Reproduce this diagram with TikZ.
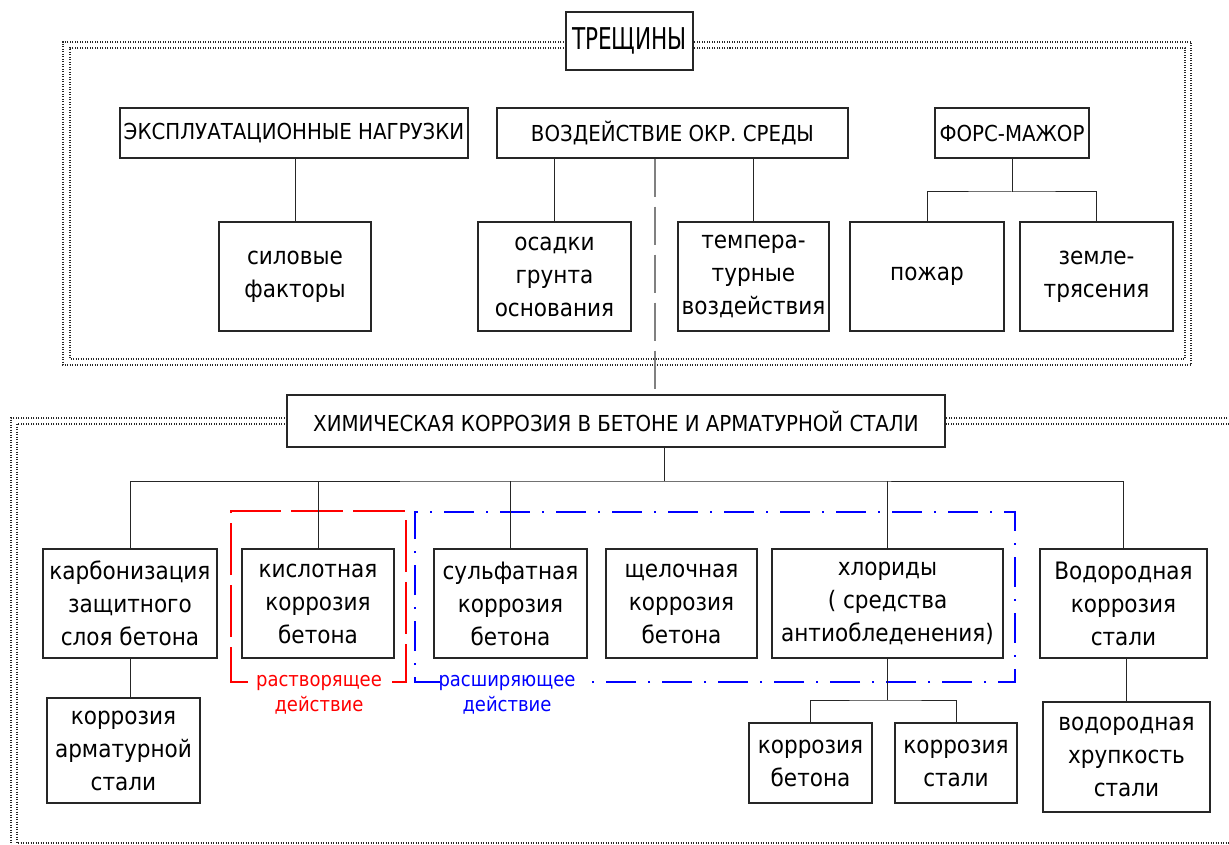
\documentclass[tikz,border=0pt]{standalone}
\usepackage{fontspec}
\setmainfont{DejaVu Sans Condensed}
\newfontfamily\tallfont{DejaVu Sans Condensed}[FakeStretch=0.8]

\tikzset{
    box/.style={draw=black!85, line width=1.2pt, align=center, inner sep=0pt, font=\fontsize{24}{33}\selectfont},
    capsbox/.style={box, font=\fontsize{22}{26}\selectfont},
    link/.style={line width=1pt, black!85},
    frame/.style={line width=1.1pt, black!85, dash pattern=on 1pt off 1.5pt},
    axisline/.style={line width=1.2pt, black!50, dash pattern=on 38pt off 10pt},
    dissolve/.style={line width=1.5pt, red, dash pattern=on 52pt off 10pt},
    expand/.style={line width=1.5pt, blue, dash pattern=on 30pt off 12pt on 2pt off 12pt},
    effect/.style={align=center, inner sep=0pt, font=\fontsize{20}{25}\selectfont}
}

\begin{document}
\begin{tikzpicture}[x=1pt, y=-1pt]
    \path[use as bounding box, fill=white] (0,0) rectangle (1229,845);
    \clip (0,0) rectangle (1229,845);

    \node[capsbox, minimum width=127pt, minimum height=58pt, font=\tallfont\fontsize{30}{34}\selectfont] (cracks) at (629.5,41) {ТРЕЩИНЫ};
    \node[capsbox, minimum width=348pt, minimum height=50pt] (loads) at (294,133) {ЭКСПЛУАТАЦИОННЫЕ НАГРУЗКИ};
    \node[capsbox, minimum width=351pt, minimum height=50pt] (envir) at (672.5,133) {ВОЗДЕЙСТВИЕ ОКР. СРЕДЫ};
    \node[capsbox, minimum width=154pt, minimum height=50pt] (force) at (1012,133) {ФОРС-МАЖОР};

    \node[box, minimum width=152pt, minimum height=109pt] (power) at (295,276.5) {силовые\\факторы};
    \node[box, minimum width=153pt, minimum height=109pt] (settle) at (554.5,276.5) {осадки\\грунта\\основания};
    \node[box, minimum width=151pt, minimum height=109pt] (temper) at (753.5,276.5) {темпера-\\турные\\воздействия};
    \node[box, minimum width=154pt, minimum height=109pt] (fire) at (927,276.5) {пожар};
    \node[box, minimum width=153pt, minimum height=109pt] (quake) at (1096.5,276.5) {земле-\\трясения};

    \node[capsbox, minimum width=658pt, minimum height=52pt] (chem) at (616,421) {ХИМИЧЕСКАЯ КОРРОЗИЯ В БЕТОНЕ И АРМАТУРНОЙ СТАЛИ};

    \node[box, minimum width=174pt, minimum height=109pt] (carb) at (130,603.5) {карбонизация\\защитного\\слоя бетона};
    \node[box, minimum width=152pt, minimum height=109pt] (acid) at (318,603.5) {кислотная\\коррозия\\бетона};
    \node[box, minimum width=153pt, minimum height=109pt] (sulf) at (510.5,603.5) {сульфатная\\коррозия\\бетона};
    \node[box, minimum width=151pt, minimum height=109pt] (alkali) at (681.5,603.5) {щелочная\\коррозия\\бетона};
    \node[box, minimum width=231pt, minimum height=109pt] (chlor) at (887.5,603.5) {хлориды\\( средства\\антиобледенения)};
    \node[box, minimum width=167pt, minimum height=109pt] (hydro) at (1123.5,603.5) {Водородная\\коррозия\\стали};

    \node[box, minimum width=153pt, minimum height=105pt] (rebar) at (123.5,750.5) {коррозия\\арматурной\\стали};
    \node[box, minimum width=123pt, minimum height=80pt] (concr) at (810.5,763) {коррозия\\бетона};
    \node[box, minimum width=122pt, minimum height=80pt] (steel) at (956,763) {коррозия\\стали};
    \node[box, minimum width=167pt, minimum height=110pt] (brittle) at (1126.5,757) {водородная\\хрупкость\\стали};

    \node[effect, red] (dislab) at (319,695) {растворящее\\действие};
    \node[effect, blue] (explab) at (507,695) {расширяющее\\действие};

    \draw[frame] (566,42) -- (63,42) -- (63,365) -- (1191,365) -- (1191,42) -- (693,42);
    \draw[frame] (566,48) -- (70,48) -- (70,359) -- (1185,359) -- (1185,48) -- (693,48);
    \draw[frame] (287,418) -- (11,418) -- (11,849) -- (1240,849) -- (1240,418) -- (945,418);
    \draw[frame] (287,424) -- (17,424) -- (17,843) -- (1234,843) -- (1234,424) -- (945,424);

    \draw[dissolve] (248,682) -- (231,682) -- (231,511) -- (406,511) -- (406,682) -- (388,682);
    \draw[expand] (440,682) -- (415,682) -- (415,512) -- (1015,512) -- (1015,682) -- (583,682);

    \coordinate (axis) at (655,0);
    \coordinate (forkj) at (1012,192);
    \coordinate (chemj) at (664,481);
    \coordinate (chlorj) at (887.5,700);

    \draw[link] (power.north) -- (power.north |- loads.south);
    \draw[link] (settle.north) -- (settle.north |- envir.south);
    \draw[link] (temper.north) -- (temper.north |- envir.south);
    \draw[link] (force.south) -- (forkj);
    \draw[link] (fire.north) |- (forkj) -| (quake.north);
    \draw[axisline] (envir.south -| axis) -- (chem.north -| axis);

    \draw[link] (chem.south -| chemj) -- (chemj);
    \draw[link] (carb.north) |- (chemj) -| (hydro.north);
    \draw[link] (acid.north) -- (acid.north |- chemj);
    \draw[link] (sulf.north) -- (sulf.north |- chemj);
    \draw[link] (chlor.north) -- (chlor.north |- chemj);

    \draw[link] (carb.south) -- (carb.south |- rebar.north);
    \draw[link] (chlor.south) -- (chlorj);
    \draw[link] (concr.north) |- (chlorj) -| (steel.north);
    \draw[link] (brittle.north |- hydro.south) -- (brittle.north);
\end{tikzpicture}
\end{document}
